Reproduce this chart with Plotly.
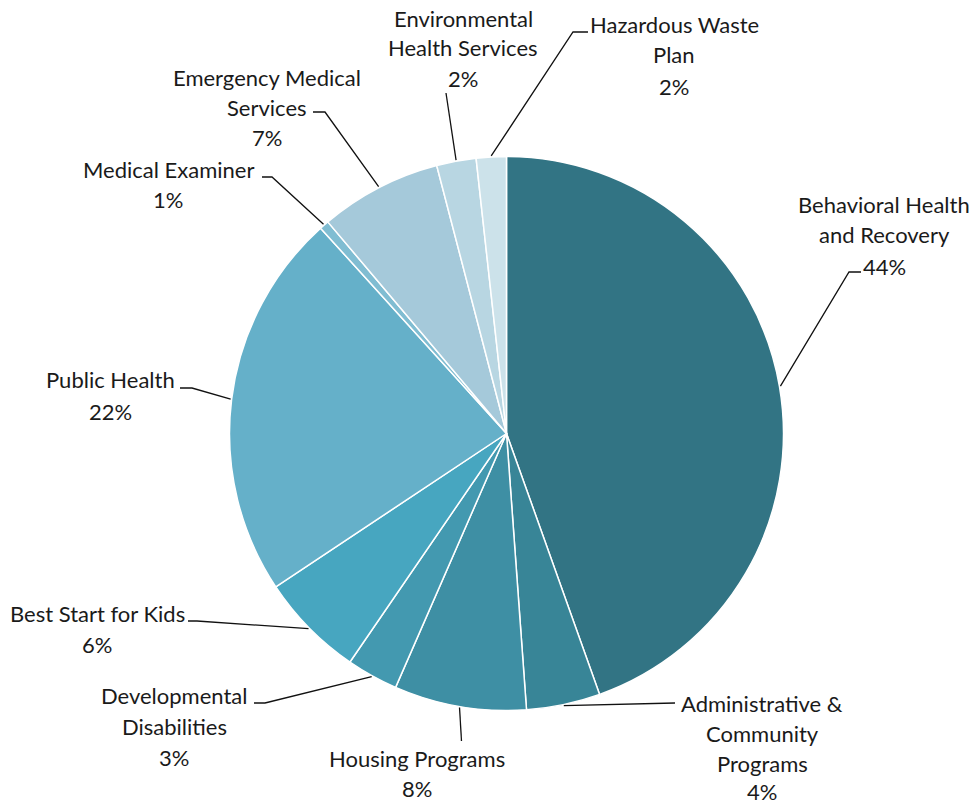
import math
import plotly.graph_objects as go

# ---------------- data ----------------
categories = [
    "Behavioral Health and Recovery",
    "Administrative & Community Programs",
    "Housing Programs",
    "Developmental Disabilities",
    "Best Start for Kids",
    "Public Health",
    "Medical Examiner",
    "Emergency Medical Services",
    "Environmental Health Services",
    "Hazardous Waste Plan",
]
values = [44.5, 4.3, 7.7, 3.0, 6.1, 22.6, 0.55, 7.1, 2.3, 1.75]
pct_labels = ["44%", "4%", "8%", "3%", "6%", "22%", "1%", "7%", "2%", "2%"]
label_lines = [
    ["Behavioral Health", "and Recovery"],
    ["Administrative &", "Community", "Programs"],
    ["Housing Programs"],
    ["Developmental", "Disabilities"],
    ["Best Start for Kids"],
    ["Public Health"],
    ["Medical Examiner"],
    ["Emergency Medical", "Services"],
    ["Environmental", "Health Services"],
    ["Hazardous Waste", "Plan"],
]
colors = ["#327484", "#388597", "#3e8fa4", "#4399b0", "#47a6c0",
          "#65b0c9", "#80bdd2", "#a5c9da", "#b8d6e2", "#cce2ea"]

# ---------------- layout (pixels) ----------------
W, H = 977, 804
CX, CY, R = 506.5, 433.5, 277
# label centre x, y of each text line (incl. percent line), leader points after edge
label_pos = [
    dict(x=884, ys=[205, 235, 266], leader=[(849, 272), (861, 272)]),
    dict(x=762, ys=[703, 733, 763, 791], leader=[(675, 703)]),
    dict(x=417, ys=[758, 788], leader=[(461.5, 741)]),
    dict(x=174, ys=[695, 726, 757], leader=[(265, 703), (254, 703)]),
    dict(x=97, ys=[613, 644], leader=[(197, 621), (188, 621)]),
    dict(x=110, ys=[380, 411], leader=[(192, 388), (180, 388)]),
    dict(x=168, ys=[170, 200], leader=[(272, 177), (262, 177)]),
    dict(x=267, ys=[77, 107, 138], leader=[(325, 112), (313, 112)]),
    dict(x=463, ys=[19, 48, 79], leader=[(446, 93)]),
    dict(x=674, ys=[25, 55, 86], leader=[(573, 32), (588, 32)]),
]

FONT = dict(family="Lato, Calibri, sans-serif", size=22, color="#1a1a1a")


def px(x):
    return x / W


def py(y):
    return 1 - y / H


fig = go.Figure(
    go.Pie(
        labels=categories,
        values=values,
        sort=False,
        direction="clockwise",
        rotation=0,
        marker=dict(colors=colors, line=dict(color="white", width=1.5)),
        textinfo="none",
        hoverinfo="label+percent",
        showlegend=False,
        domain=dict(x=[px(CX - R), px(CX + R)], y=[py(CY + R), py(CY - R)]),
    )
)

annotations = []
shapes = []
total = sum(values)
cum = 0.0
for i, v in enumerate(values):
    mid = (cum + v / 2) / total * 2 * math.pi
    cum += v
    ex = CX + (R + 1) * math.sin(mid)
    ey = CY - (R + 1) * math.cos(mid)
    pts = [(ex, ey)] + label_pos[i]["leader"]
    path = "M " + " L ".join(f"{px(a):.5f},{py(b):.5f}" for a, b in pts)
    shapes.append(dict(type="path", xref="paper", yref="paper", path=path,
                       line=dict(color="#111111", width=1.3)))
    lines = label_lines[i] + [pct_labels[i]]
    for t, yy in zip(lines, label_pos[i]["ys"]):
        annotations.append(dict(text=t, x=px(label_pos[i]["x"]), y=py(yy),
                                xref="paper", yref="paper", showarrow=False,
                                xanchor="center", yanchor="middle", font=FONT))

fig.update_layout(
    width=W, height=H,
    margin=dict(l=0, r=0, t=0, b=0),
    paper_bgcolor="white", plot_bgcolor="white",
    annotations=annotations, shapes=shapes,
)

fig.write_html("out.html")
